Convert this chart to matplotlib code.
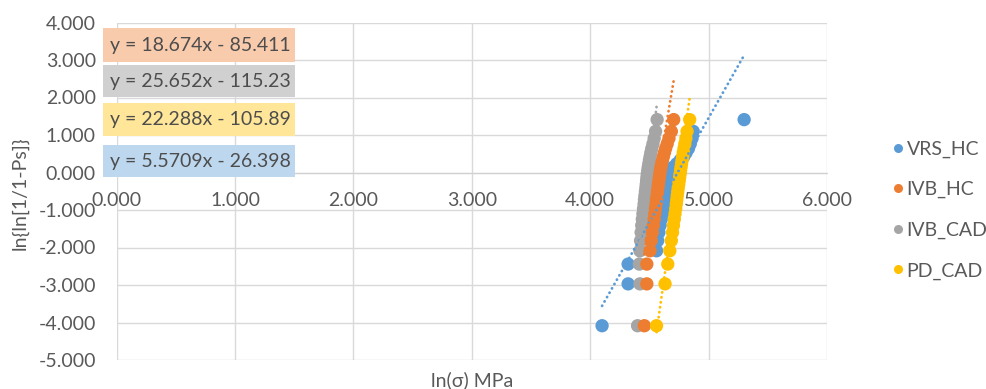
import matplotlib
matplotlib.use('Agg')
import matplotlib.pyplot as plt
from matplotlib.patches import Rectangle
from matplotlib.lines import Line2D
from matplotlib.ticker import FormatStrFormatter
import numpy as np

plt.rcParams['font.family'] = ['Lato', 'DejaVu Sans']

# ---- data ----
y_rank = [-4.086, -2.970, -2.442, -2.087, -1.817, -1.597, -1.410, -1.246, -1.099, -0.966,
          -0.842, -0.727, -0.618, -0.514, -0.415, -0.319, -0.225, -0.133, -0.042, 0.049,
          0.140, 0.232, 0.327, 0.425, 0.529, 0.640, 0.765, 0.910, 1.097, 1.410]

vrs_hc_x = [4.100, 4.320, 4.320, 4.560, 4.570, 4.580, 4.590, 4.600, 4.610, 4.620,
            4.630, 4.635, 4.640, 4.645, 4.650, 4.655, 4.660, 4.665, 4.670, 4.680,
            4.700, 4.730, 4.760, 4.790, 4.810, 4.830, 4.845, 4.860, 4.870, 5.300]

ivb_hc_x = [4.457, 4.478, 4.478, 4.505, 4.515, 4.525, 4.533, 4.540, 4.546, 4.551,
            4.556, 4.560, 4.564, 4.568, 4.572, 4.576, 4.580, 4.584, 4.588, 4.592,
            4.597, 4.603, 4.610, 4.618, 4.627, 4.637, 4.650, 4.665, 4.685, 4.705]

ivb_cad_x = [4.400, 4.420, 4.415, 4.420, 4.425, 4.430, 4.435, 4.440, 4.445, 4.450,
             4.455, 4.458, 4.462, 4.466, 4.470, 4.473, 4.476, 4.479, 4.482, 4.486,
             4.490, 4.495, 4.500, 4.506, 4.512, 4.520, 4.530, 4.540, 4.552, 4.565]

pd_cad_x = [4.560, 4.632, 4.655, 4.672, 4.685, 4.695, 4.703, 4.710, 4.716, 4.722,
            4.727, 4.731, 4.735, 4.739, 4.743, 4.747, 4.751, 4.755, 4.759, 4.763,
            4.767, 4.771, 4.776, 4.781, 4.786, 4.792, 4.799, 4.808, 4.818, 4.840]

series_names = ['VRS_HC', 'IVB_HC', 'IVB_CAD', 'PD_CAD']
series_x = [vrs_hc_x, ivb_hc_x, ivb_cad_x, pd_cad_x]
series_colors = ['#5B9BD5', '#ED7D31', '#A5A5A5', '#FFC000']
trend_slope = [5.5709, 18.674, 25.652, 22.288]
trend_icept = [-26.398, -85.411, -115.23, -105.89]
eq_labels = ['y = 18.674x - 85.411', 'y = 25.652x - 115.23',
             'y = 22.288x - 105.89', 'y = 5.5709x - 26.398']
eq_colors = ['#F8CBAD', '#D0D0D0', '#FFE699', '#BDD7EE']

x_ticks = [0, 1, 2, 3, 4, 5, 6]
y_ticks = [-5, -4, -3, -2, -1, 0, 1, 2, 3, 4]

# ---- figure ----
W, H = 987, 389
fig = plt.figure(figsize=(W / 100, H / 100), dpi=100)
fig.patch.set_facecolor('white')

L, R, T, B = 116.7, 827.0, 22.5, 360.0
ax = fig.add_axes([L / W, 1 - B / H, (R - L) / W, (B - T) / H])
ax.set_xlim(0, 6)
ax.set_ylim(-5, 4)
ax.set_xticks(x_ticks)
ax.set_yticks(y_ticks)
ax.xaxis.set_major_formatter(FormatStrFormatter('%.3f'))
ax.yaxis.set_major_formatter(FormatStrFormatter('%.3f'))
ax.grid(True, color='#D9D9D9', lw=1.0)
ax.set_axisbelow(True)
for s in ['top', 'right', 'left']:
    ax.spines[s].set_visible(False)
ax.spines['bottom'].set_position(('data', 0))
ax.spines['bottom'].set_color('#D0D0D0')
ax.tick_params(length=0, colors='#595959', labelsize=14)
ax.tick_params(axis='x', pad=14)
ax.tick_params(axis='y', pad=15)

TEXT = '#595959'

# draw order: blue, grey, orange, yellow
order = [0, 2, 1, 3]
for z, i in enumerate(order):
    ax.scatter(series_x[i], y_rank, s=92, color=series_colors[i], edgecolors='none',
               zorder=3 + z, clip_on=False)

for i in range(4):
    xs = np.array([min(series_x[i]), max(series_x[i])])
    ys = trend_slope[i] * xs + trend_icept[i]
    ax.plot(xs, ys, color=series_colors[i], lw=2.0, dashes=(0.1, 1.7),
            dash_capstyle='round', zorder=10)

# equation boxes
boxes = [(28, 62), (65, 97), (103, 136), (145, 177)]
for (y0, y1), lab, c in zip(boxes, eq_labels, eq_colors):
    fig.add_artist(Rectangle((103 / W, 1 - y1 / H), (295 - 103) / W, (y1 - y0) / H,
                             transform=fig.transFigure, facecolor=c, edgecolor='none', zorder=20))
    fig.text(110 / W, 1 - (y0 + y1) / 2 / H, lab, ha='left', va='center',
             fontsize=14, color='#4D4D4D', zorder=21)

# axis titles
fig.text(471.7 / W, 1 - 380 / H, 'ln(σ) MPa', ha='center', va='center', fontsize=14, color=TEXT)
fig.text(20 / W, 1 - 193 / H, 'ln{ln[1/1-Ps]}', ha='center', va='center', rotation=90,
         fontsize=14, color=TEXT)

# legend
handles = [Line2D([], [], ls='none', marker='o', ms=6.5, color=c, markeredgecolor='none')
           for c in series_colors]
leg = ax.legend(handles, series_names, loc='center left', bbox_to_anchor=(892 / W, 1 - 210 / H),
                bbox_transform=fig.transFigure, frameon=False, handlelength=0.6,
                handletextpad=0.15, labelspacing=1.2, fontsize=14, borderpad=0,
                borderaxespad=0)
for t in leg.get_texts():
    t.set_color(TEXT)

fig.savefig('out.png', dpi=100, facecolor='white')
